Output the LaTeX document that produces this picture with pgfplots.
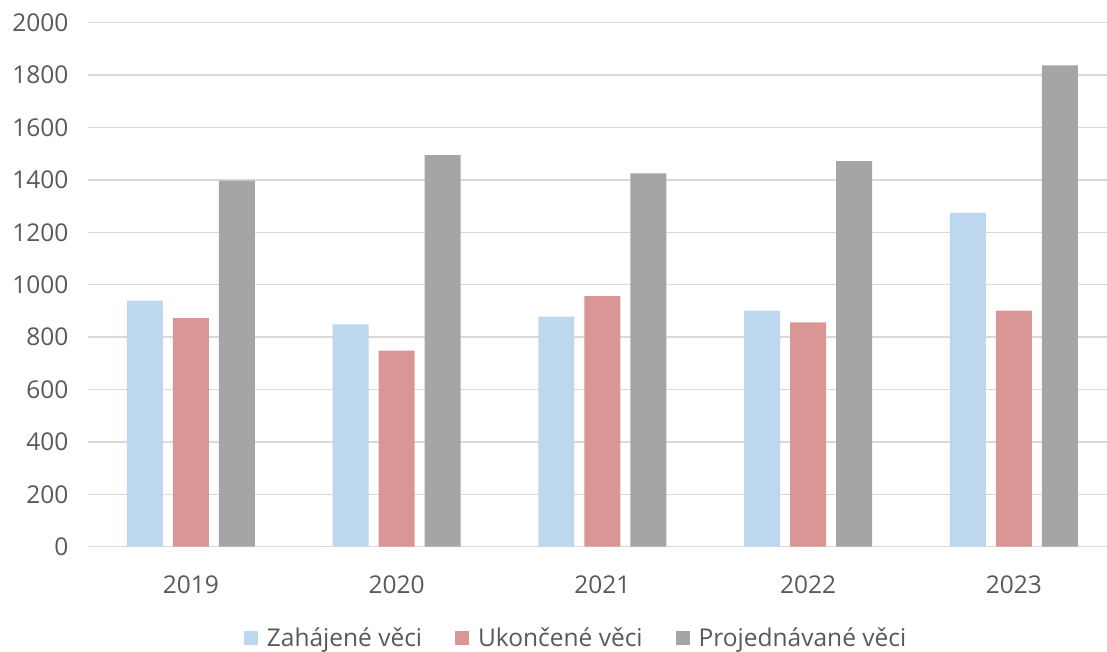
\documentclass[border=0pt]{standalone}
\usepackage{pgfplots}
\pgfplotsset{compat=1.18}
\usepackage{fontspec}
\setmainfont{Open Sans}
\definecolor{cblue}{HTML}{BDD7EE}
\definecolor{cred}{HTML}{DA9694}
\definecolor{cgray}{HTML}{A5A5A5}
\definecolor{gridc}{HTML}{D9D9D9}
\definecolor{txt}{HTML}{595959}
\begin{document}
\begin{tikzpicture}[x=1pt,y=1pt]
\path[use as bounding box] (0,0) rectangle (1107,652);
\begin{axis}[
  at={(88pt,105.3pt)}, anchor=south west,
  scale only axis, width=1019pt, height=524pt,
  ybar=10pt, bar width=36pt,
  xmin=-0.5, xmax=4.453,
  ymin=0, ymax=2000,
  ytick={0,200,...,2000},
  xtick={0,1,2,3,4},
  xticklabels={2019,2020,2021,2022,2023},
  axis line style={draw=none},
  xmajorgrids=false,
  ymajorgrids, grid style={draw=gridc, line width=1.5pt},
  major tick length=0pt,
  font=\fontsize{24.5}{29}\selectfont,
  ticklabel style={text=txt},
  /pgf/number format/assume math mode=true,
  /pgf/number format/1000 sep={},
  yticklabel style={xshift=-16pt},
  xticklabel style={yshift=-26pt},
  legend style={draw=none, at={(0.478,-0.174)}, anchor=center, text=txt,
    nodes={inner sep=0pt},
    /tikz/every odd column/.append style={column sep=9pt},
    /tikz/every even column/.append style={column sep=33pt}},
  legend columns=3,
  legend image code/.code={\fill (0pt,-7pt) rectangle (14pt,7pt);},
  clip=false,
]
\addplot[fill=cblue, draw=none] coordinates {(0,939) (1,849) (2,878) (3,901) (4,1274)};
\addplot[fill=cred, draw=none] coordinates {(0,872) (1,748) (2,956) (3,856) (4,901)};
\addplot[fill=cgray, draw=none] coordinates {(0,1397) (1,1495) (2,1425) (3,1472) (4,1837)};
\legend{Zahájené věci, Ukončené věci, Projednávané věci}
\end{axis}
\end{tikzpicture}
\end{document}
